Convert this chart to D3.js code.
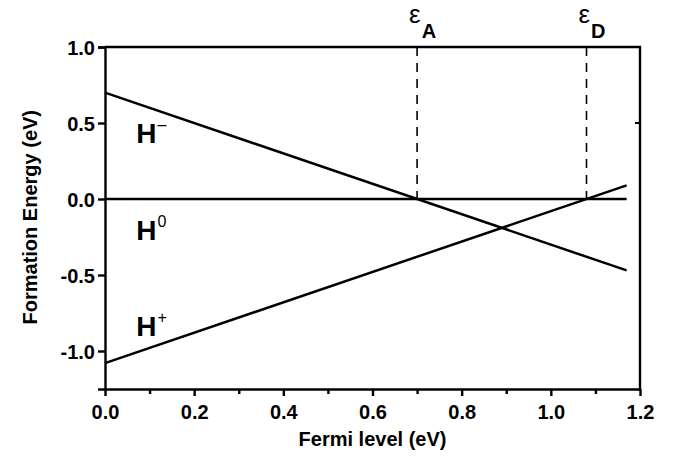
<!DOCTYPE html>
<html>
<head>
<meta charset="utf-8">
<title>Formation energy vs Fermi level</title>
<script src="https://d3js.org/d3.v7.min.js"></script>
<style>
body { margin: 0; background: #fff; }
svg { font-family: "Liberation Sans", Arial, sans-serif; }
.axis path, .axis line { stroke: #000; stroke-width: 2.4; }
.axis text { font-size: 20px; font-weight: bold; fill: #000; }
.title { font-size: 20px; font-weight: bold; }
.curve { fill: none; stroke: #000; stroke-width: 2.5; }
.lab { font-size: 28px; font-weight: bold; }
</style>
</head>
<body>
<script>
// Fermi level end points of the lines (eV)
var fermi = [0, 1.17];
// formation energies at those end points (eV)
var hMinus = [0.70, -0.47];
var hZero = [0, 0];
var hPlus = [-1.08, 0.09];
// transition levels
var levels = [{name: "A", x: 0.70}, {name: "D", x: 1.08}];
var xTicks = [0, 0.1, 0.2, 0.3, 0.4, 0.5, 0.6, 0.7, 0.8, 0.9, 1.0, 1.1, 1.2];
var yTicks = [-1.0, -0.5, 0, 0.5, 1.0];
var series = [
  {name: "-", values: hMinus, lx: 0.07, ly: 0.37},
  {name: "0", values: hZero, lx: 0.07, ly: -0.27},
  {name: "+", values: hPlus, lx: 0.07, ly: -0.90}
];

var margin = {top: 47, right: 34, bottom: 77, left: 105},
    width = 674 - margin.left - margin.right,
    height = 466 - margin.top - margin.bottom;

var x = d3.scaleLinear().domain([0, 1.2]).range([0, width]);
var y = d3.scaleLinear().domain([-1.25, 1.0]).range([height, 0]);

var fmt = function(d) { return d3.format(".1f")(d).replace("\u2212", "-"); };

var svg = d3.select("body").append("svg")
    .attr("width", 674)
    .attr("height", 466)
  .append("g")
    .attr("transform", "translate(" + margin.left + "," + margin.top + ")");

// bottom axis, labels on every second tick
var xAxis = d3.axisBottom(x).tickValues(xTicks).tickSizeOuter(0)
    .tickFormat(function(d, i) { return i % 2 == 0 ? fmt(d) : ""; });
var gx = svg.append("g").attr("class", "axis")
    .attr("transform", "translate(0," + height + ")")
    .call(xAxis);
gx.selectAll(".tick line").attr("y2", function(d, i) { return i % 2 == 0 ? 7 : 5; });
gx.selectAll(".tick text").attr("y", 12).attr("dy", "0.9em");

var yAxis = d3.axisLeft(y).tickValues(yTicks).tickSizeOuter(0).tickSize(7)
    .tickFormat(fmt);
var gy = svg.append("g").attr("class", "axis").call(yAxis);
gy.selectAll(".tick text").attr("x", -10).attr("dy", "0.36em");

// top and right frame
svg.append("path")
    .attr("d", "M0," + y(1.0) + "H" + x(1.2) + "V" + y(-1.25))
    .attr("fill", "none").attr("stroke", "#000").attr("stroke-width", 2.4);
svg.append("line")
    .attr("x1", x(1.2)).attr("x2", x(1.2) - 5)
    .attr("y1", y(0.5)).attr("y2", y(0.5))
    .attr("stroke", "#000").attr("stroke-width", 2);

// axis titles
svg.append("text").attr("class", "title")
    .attr("x", width / 2).attr("y", height + 57)
    .attr("text-anchor", "middle")
    .text("Fermi level (eV)");
svg.append("text").attr("class", "title")
    .attr("transform", "translate(-68," + (y(-0.12)) + ") rotate(-90)")
    .attr("text-anchor", "middle")
    .text("Formation Energy (eV)");

// dashed transition levels
svg.selectAll(".level").data(levels).enter().append("line")
    .attr("x1", function(d) { return x(d.x); })
    .attr("x2", function(d) { return x(d.x); })
    .attr("y1", y(1.0)).attr("y2", y(0))
    .attr("stroke", "#000").attr("stroke-width", 1.6)
    .attr("stroke-dasharray", "9,7");

var eps = svg.selectAll(".eps").data(levels).enter().append("text")
    .attr("x", function(d) { return x(d.x) - 8; })
    .attr("y", -24);
eps.append("tspan").style("font-size", "26px").text("\u03b5");
eps.append("tspan").attr("dy", 15).attr("dx", 1)
    .style("font-size", "20px").style("font-weight", "bold")
    .text(function(d) { return d.name; });

// the three charge states
var line = d3.line()
    .x(function(d, i) { return x(fermi[i]); })
    .y(function(d) { return y(d); });

svg.selectAll(".curve").data(series).enter().append("path")
    .attr("class", "curve")
    .attr("stroke-width", function(d) { return d.name == "0" ? 3 : 2.5; })
    .attr("d", function(d) { return line(d.values); });

var lab = svg.selectAll(".lab").data(series).enter().append("text")
    .attr("class", "lab")
    .attr("x", function(d) { return x(d.lx); })
    .attr("y", function(d) { return y(d.ly); });
lab.append("tspan").text("H");
lab.append("tspan").attr("dy", -13).attr("dx", 1)
    .style("font-size", "16px").style("font-weight", "normal")
    .text(function(d) { return d.name == "-" ? "\u2013" : d.name; });
</script>
</body>
</html>
